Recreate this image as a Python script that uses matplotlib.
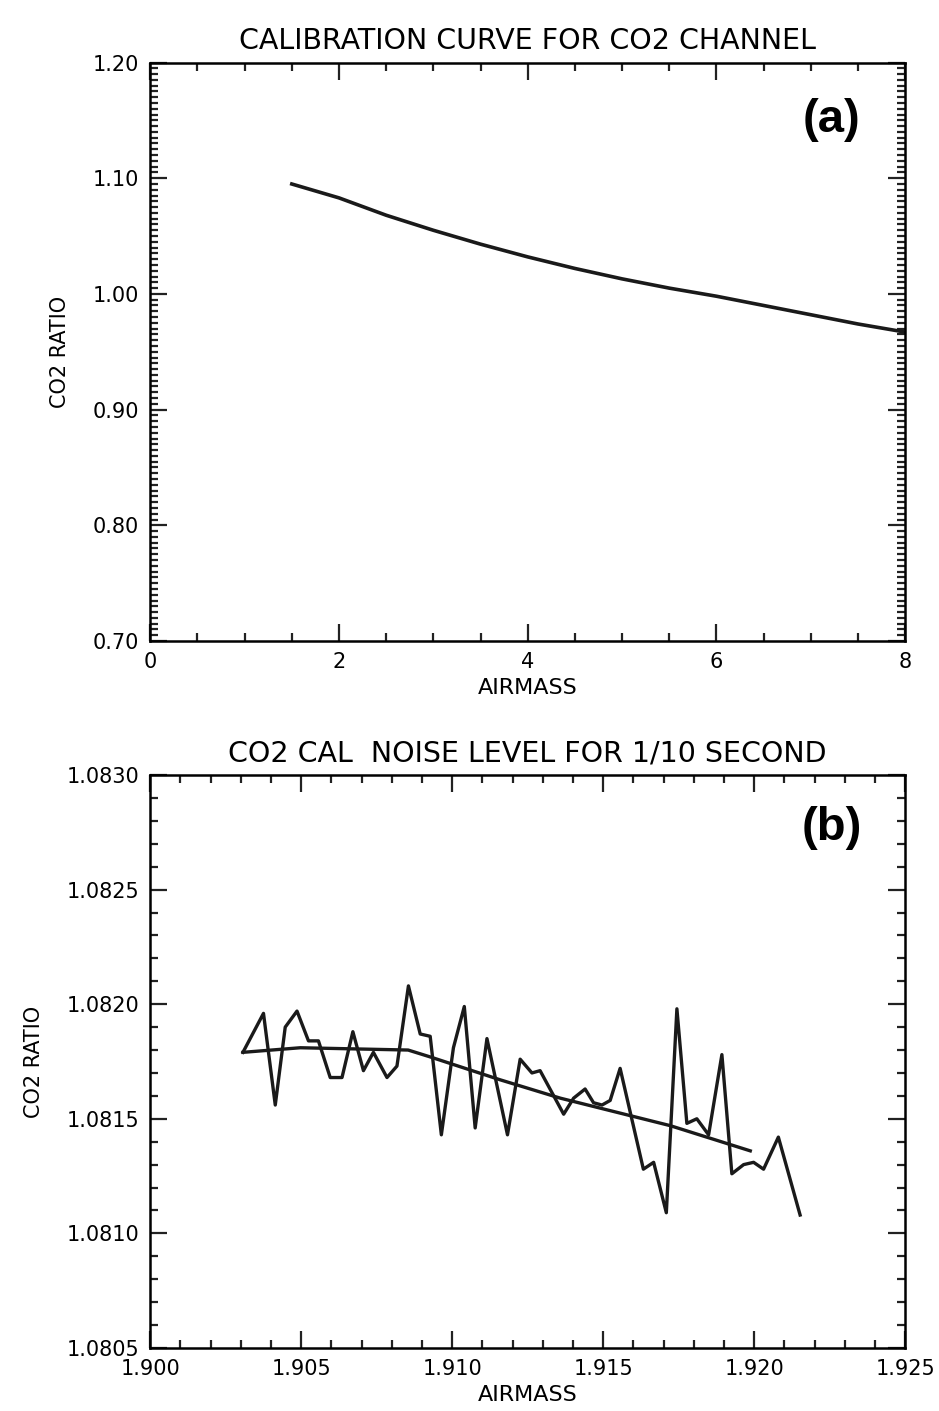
import matplotlib.pyplot as plt
from matplotlib.ticker import MultipleLocator, FormatStrFormatter

# panel (a): calibration curve
airmass_a = [1.5, 2.0, 2.5, 3.0, 3.5, 4.0, 4.5, 5.0, 5.5, 6.0, 6.5, 7.0, 7.5, 8.0]
ratio_a = [1.095, 1.083, 1.068, 1.055, 1.043, 1.032, 1.022, 1.013, 1.005, 0.998,
           0.990, 0.982, 0.974, 0.967]

# panel (b): 1/10 s noise
airmass_b = [1.90307, 1.90375, 1.90414, 1.90447, 1.90486, 1.90524, 1.90557, 1.90596,
             1.90635, 1.90671, 1.90706, 1.90739, 1.90784, 1.90817, 1.90855, 1.90894,
             1.90927, 1.90964, 1.91004, 1.91040, 1.91076, 1.91115, 1.91183, 1.91225,
             1.91264, 1.91291, 1.91369, 1.91402, 1.91440, 1.91468, 1.91496, 1.91523,
             1.91556, 1.91633, 1.91667, 1.91709, 1.91744, 1.91777, 1.91810, 1.91849,
             1.91893, 1.91926, 1.91965, 1.91998, 1.92031, 1.92080, 1.92152]
ratio_b = [1.08179, 1.08196, 1.08156, 1.08190, 1.08197, 1.08184, 1.08184, 1.08168,
           1.08168, 1.08188, 1.08171, 1.08179, 1.08168, 1.08173, 1.08208, 1.08187,
           1.08186, 1.08143, 1.08181, 1.08199, 1.08146, 1.08185, 1.08143, 1.08176,
           1.08170, 1.08171, 1.08152, 1.08159, 1.08163, 1.08157, 1.08156, 1.08158,
           1.08172, 1.08128, 1.08131, 1.08109, 1.08198, 1.08148, 1.08150, 1.08143,
           1.08178, 1.08126, 1.08130, 1.08131, 1.08128, 1.08142, 1.08108]

# smooth fit through the noise
airmass_fit = [1.90307, 1.90497, 1.90854, 1.90927, 1.91159, 1.91358, 1.91722, 1.91987]
ratio_fit = [1.08179, 1.08181, 1.08180, 1.08177, 1.08167, 1.08159, 1.08147, 1.08136]

plt.rcParams['font.family'] = ['DejaVu Sans']
plt.rcParams['axes.linewidth'] = 1.8

fig = plt.figure(figsize=(9.39, 14.11), dpi=100)
ax1 = fig.add_axes([0.160, 0.5457, 0.804, 0.410])
ax2 = fig.add_axes([0.160, 0.0447, 0.804, 0.406])


def style(ax, xmaj, xmin, ymaj, ymin, xfmt, yfmt):
    ax.xaxis.set_major_locator(MultipleLocator(xmaj))
    ax.xaxis.set_minor_locator(MultipleLocator(xmin))
    ax.yaxis.set_major_locator(MultipleLocator(ymaj))
    ax.yaxis.set_minor_locator(MultipleLocator(ymin))
    ax.xaxis.set_major_formatter(FormatStrFormatter(xfmt))
    ax.yaxis.set_major_formatter(FormatStrFormatter(yfmt))
    ax.tick_params(which='both', direction='in', top=True, right=True,
                   labelsize=15, width=1.6, color='#222222')
    ax.tick_params(which='major', length=12, pad=8)
    ax.tick_params(which='minor', length=6)
    ax.set_xlabel("AIRMASS", fontsize=16, labelpad=4)
    ax.set_ylabel("CO2 RATIO", fontsize=15, labelpad=16)


ax1.plot(airmass_a, ratio_a, color='#1a1a1a', lw=2.6)
ax1.set_xlim(0, 8)
ax1.set_ylim(0.70, 1.20)
style(ax1, 2, 0.5, 0.10, 0.005, "%d", "%.2f")
ax1.set_title("CALIBRATION CURVE FOR CO2 CHANNEL", fontsize=20.5, pad=10)
ax1.text(0.903, 0.90, "(a)", transform=ax1.transAxes, fontsize=34,
         fontweight='bold', family='Liberation Sans', ha='center', va='center')

ax2.plot(airmass_b, ratio_b, color='#1a1a1a', lw=2.4)
ax2.plot(airmass_fit, ratio_fit, color='#1a1a1a', lw=2.4)
ax2.set_xlim(1.900, 1.925)
ax2.set_ylim(1.0805, 1.0830)
style(ax2, 0.005, 0.001, 0.0005, 0.0001, "%.3f", "%.4f")
ax2.set_title("CO2 CAL  NOISE LEVEL FOR 1/10 SECOND", fontsize=20.5, pad=10)
ax2.text(0.903, 0.907, "(b)", transform=ax2.transAxes, fontsize=34,
         fontweight='bold', family='Liberation Sans', ha='center', va='center')

plt.savefig("out.png", dpi=100)
